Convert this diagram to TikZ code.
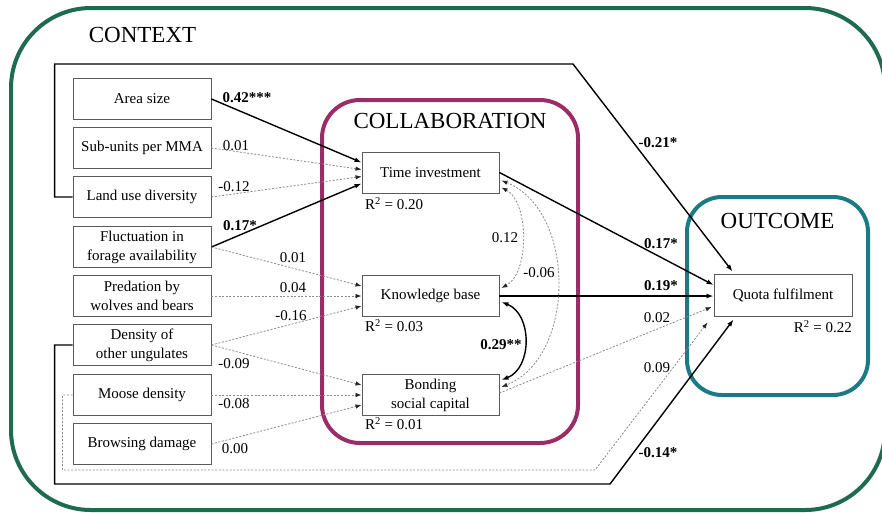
\documentclass[tikz,border=0pt]{standalone}
\usepackage{fontspec}
\setmainfont{Liberation Serif}
\usetikzlibrary{arrows.meta,calc}
\definecolor{ctxgreen}{HTML}{1E6B50}
\definecolor{colpurple}{HTML}{9B2C68}
\definecolor{outteal}{HTML}{1B7A85}
\definecolor{boxgray}{HTML}{5A5A5A}
\definecolor{weakgray}{HTML}{8A8A8A}

\begin{document}
\begin{tikzpicture}[x=1pt,y=-1pt,
  varbox/.style={draw=boxgray,fill=white,line width=0.9pt,minimum width=138pt,
    minimum height=41pt,inner sep=2pt,align=center,
    font=\fontsize{15}{19}\selectfont},
  frame/.style={line width=4pt},
  title/.style={font=\fontsize{23}{27}\selectfont,anchor=base,inner sep=0pt},
  coef/.style={font=\fontsize{15}{18}\selectfont,anchor=base,inner sep=0pt},
  sig/.style={font=\fontsize{15}{18}\selectfont\bfseries,anchor=base,inner sep=0pt},
  rsq/.style={font=\fontsize{15}{18}\selectfont,inner sep=0pt},
  strongline/.style={draw=black,line width=1.4pt},
  weakline/.style={draw=weakgray,line width=0.8pt,dash pattern=on 2pt off 1.6pt},
  strong/.style={strongline,-{Latex[length=7pt,width=5pt]}},
  weak/.style={weakline,-{Latex[length=6pt,width=4.5pt,color=black!85]}},
  strongboth/.style={strongline,{Latex[length=7pt,width=5pt]}-{Latex[length=7pt,width=5pt]}},
  weakboth/.style={weakline,{Latex[length=6pt,width=4.5pt,color=black!85]}-{Latex[length=6pt,width=4.5pt,color=black!85]}},
  ]
\useasboundingbox (0,0) rectangle (882,512);
\clip (0,0) rectangle (882,512);

% group frames
\draw[frame,ctxgreen,rounded corners=80pt] (11,8) rectangle (885,510);
\draw[frame,colpurple,rounded corners=38pt] (322,100) rectangle (578,443);
\draw[frame,outteal,rounded corners=35pt] (687,197) rectangle (868,395);

\node[title] (tctx) at (142.5,42) {CONTEXT};
\node[title] (tcol) at (450,128) {COLLABORATION};
\node[title] (tout) at (777.5,228) {OUTCOME};

% context variables
\node[varbox] (area)     at (142,99)  {Area size};
\node[varbox] (subunits) at (142,148) {Sub-units per MMA};
\node[varbox] (landuse)  at (142,197) {Land use diversity};
\node[varbox] (fluct)    at (142,247) {Fluctuation in\\forage availability};
\node[varbox] (pred)     at (142,296) {Predation by\\wolves and bears};
\node[varbox] (dens)     at (142,345) {Density of\\other ungulates};
\node[varbox] (moose)    at (142,395) {Moose density};
\node[varbox] (browse)   at (142,444) {Browsing damage};

% collaboration variables
\node[varbox,minimum width=137pt] (ti)   at (430.5,172.5) {Time investment};
\node[varbox,minimum width=137pt] (kb)   at (430.5,296)   {Knowledge base};
\node[varbox,minimum width=137pt] (bond) at (430.5,395)   {Bonding\\social capital};

% outcome
\node[varbox,minimum height=42pt] (quota) at (783,295) {Quota fulfilment};

% explained variance
\node[rsq,anchor=west] (r2ti)    at (365,204) {R\textsuperscript{2} = 0.20};
\node[rsq,anchor=west] (r2kb)    at (365,326) {R\textsuperscript{2} = 0.03};
\node[rsq,anchor=west] (r2bond)  at (365,424) {R\textsuperscript{2} = 0.01};
\node[rsq,anchor=east] (r2quota) at (852,327) {R\textsuperscript{2} = 0.22};

% bracket corners
\coordinate (kneeA) at (573,64);
\coordinate (kneeB) at (610,484);
\coordinate (kneeC) at (595,470);

% context -> collaboration
\draw[strong] (area.east) -- ($(ti.west)+(0,-10)$);
\draw[weak] (subunits.east) -- ($(ti.west)+(0,-3)$);
\draw[weak] (landuse.east) -- ($(ti.west)+(0,4)$);
\draw[strong] (fluct.east) -- ($(ti.west)+(0,11)$);
\draw[weak] (fluct.east) -- ($(kb.west)+(0,-10)$);
\draw[weak] (pred.east) -- (kb.west);
\draw[weak] (dens.east) -- ($(kb.west)+(0,10)$);
\draw[weak] (dens.east) -- ($(bond.west)+(0,-10)$);
\draw[weak] (moose.east) -- (bond.west);
\draw[weak] (browse.east) -- ($(bond.west)+(0,10)$);

% collaboration -> outcome
\draw[strong] (ti.east) -- ($(quota.west)+(0,-10)$);
\draw[strong] (kb.east) -- ($(quota.west)+(0,1)$);
\draw[weak] ($(bond.east)+(0,-2)$) -- ($(quota.west)+(-2,12)$);

% context -> outcome
\draw[strong] (landuse.west) -- ++(-18,0) |- (kneeA) -- ($(quota.north west)+(19,-2)$);
\draw[strong] (dens.west) -- ++(-18,0) |- (kneeB) -- ($(quota.south west)+(20,3)$);
\draw[weak] (moose.west) -- ++(-10,0) |- (kneeC) -- ($(quota.south west)+(-6,6)$);

% covariances
\draw[weakboth] ($(ti.east)+(2,15)$) .. controls +(28,15) and +(28,-15) .. ($(kb.east)+(2,-8)$);
\draw[weakboth] ($(ti.east)+(2,8)$) .. controls +(75,30) and +(75,-30) .. ($(bond.east)+(2,-8)$);
\draw[strongboth] ($(kb.east)+(2,6)$) .. controls +(31,12) and +(31,-12) .. ($(bond.east)+(2,-15)$);

% coefficients
\node[sig]  (cA)  at (247,102) {0.42***};
\node[coef] (cB)  at (236,150) {0.01};
\node[coef] (cC)  at (234,191) {-0.12};
\node[sig]  (cD)  at (240,230) {0.17*};
\node[coef] (cE)  at (293,262) {0.01};
\node[coef] (cF)  at (293,292) {0.04};
\node[coef] (cG)  at (291,320) {-0.16};
\node[coef] (cH)  at (234,368) {-0.09};
\node[coef] (cI)  at (234,408) {-0.08};
\node[coef] (cJ)  at (235,453) {0.00};
\node[coef] (cK)  at (505,242) {0.12};
\node[coef] (cL)  at (539,277) {-0.06};
\node[sig]  (cM)  at (501,349) {0.29**};
\node[sig]  (cN)  at (661,248) {0.17*};
\node[sig]  (cO)  at (661,290) {0.19*};
\node[coef] (cP)  at (657,322) {0.02};
\node[coef] (cQ)  at (657,372) {0.09};
\node[sig]  (cR)  at (658,457) {-0.14*};
\node[sig]  (cS)  at (658,147) {-0.21*};
\end{tikzpicture}
\end{document}
